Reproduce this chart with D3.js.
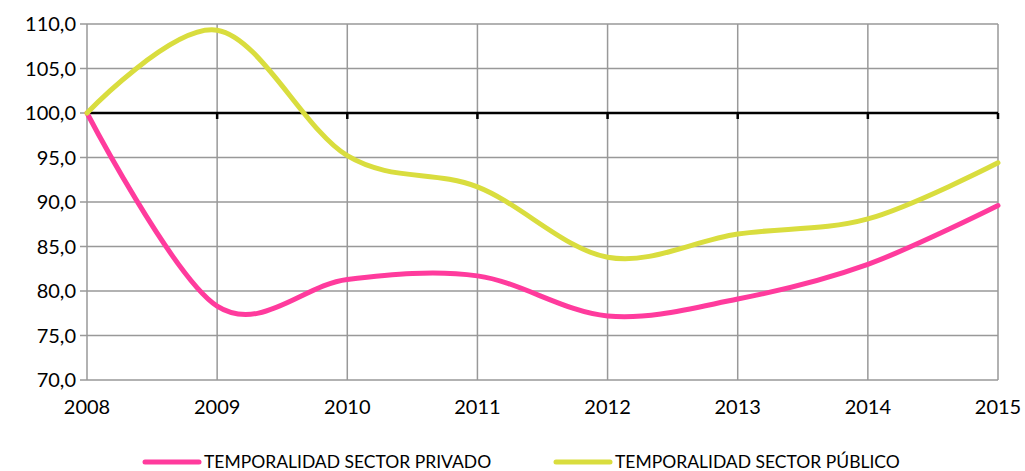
<!DOCTYPE html>
<html>
<head>
<meta charset="utf-8">
<script src="https://cdn.jsdelivr.net/npm/d3@7"></script>
<style>
  body { margin: 0; background: #fff; }
  text { font-family: Lato, "Open Sans", sans-serif; fill: #000; }
</style>
</head>
<body>
<svg width="1025" height="471" id="mainsvg"></svg>
<script>
const years = [2008, 2009, 2010, 2011, 2012, 2013, 2014, 2015];
const privado = [100.0, 78.3, 81.3, 81.7, 77.2, 79.1, 83.0, 89.6];
const publico = [100.0, 109.3, 95.2, 91.7, 83.8, 86.4, 88.1, 94.4];
const yTicks = [70, 75, 80, 85, 90, 95, 100, 105, 110];
const seriesNames = ['TEMPORALIDAD SECTOR PRIVADO', 'TEMPORALIDAD SECTOR PÚBLICO'];
const colors = ['#ff3b9d', '#d9dd3e'];

const svg = d3.select('svg');
const margin = {top: 24, left: 87, right: 27, bottom: 91};
const width = +svg.attr('width'), height = +svg.attr('height');
const innerW = width - margin.left - margin.right;
const innerH = height - margin.top - margin.bottom;
const g = svg.append('g').attr('transform', `translate(${margin.left},${margin.top})`);

const x = d3.scaleLinear().domain([2008, 2015]).range([0, innerW]);
const y = d3.scaleLinear().domain([70, 110]).range([innerH, 0]);

// grid
g.selectAll('.hgrid').data(yTicks).join('line')
  .attr('x1', -7).attr('x2', innerW)
  .attr('y1', d => y(d)).attr('y2', d => y(d))
  .attr('stroke', '#999').attr('stroke-width', 1.5);
g.selectAll('.vgrid').data(years).join('line')
  .attr('x1', d => x(d)).attr('x2', d => x(d))
  .attr('y1', 0).attr('y2', innerH)
  .attr('stroke', '#999').attr('stroke-width', 1.5);

// y labels
g.selectAll('.ylab').data(yTicks).join('text')
  .attr('x', -11).attr('y', d => y(d)).attr('dy', '0.35em')
  .attr('text-anchor', 'end').attr('font-size', 20)
  .text(d => d3.format('.1f')(d).replace('.', ','));

// x labels
g.selectAll('.xlab').data(years).join('text')
  .attr('x', d => x(d)).attr('y', innerH + 34)
  .attr('text-anchor', 'middle').attr('font-size', 20)
  .text(d => d);

// axis line at 100 with ticks
g.append('line').attr('x1', 0).attr('x2', innerW)
  .attr('y1', y(100)).attr('y2', y(100))
  .attr('stroke', '#000').attr('stroke-width', 2.5);
g.selectAll('.tick100').data(years.slice(1)).join('line')
  .attr('x1', d => x(d)).attr('x2', d => x(d))
  .attr('y1', y(100)).attr('y2', y(100) + 6)
  .attr('stroke', '#000').attr('stroke-width', 2.5);

// lines
const line = d3.line().x((d, i) => x(years[i])).y(d => y(d))
  .curve(d3.curveCardinal.tension(0));
[privado, publico].forEach((s, i) => {
  g.append('path').attr('d', line(s)).attr('fill', 'none')
    .attr('stroke', colors[i]).attr('stroke-width', 5)
    .attr('stroke-linecap', 'round');
});

// legend
const legendX = [145, 556];
const leg = svg.append('g');
seriesNames.forEach((n, i) => {
  leg.append('line').attr('x1', legendX[i]).attr('x2', legendX[i] + 54)
    .attr('y1', 462).attr('y2', 462)
    .attr('stroke', colors[i]).attr('stroke-width', 5).attr('stroke-linecap', 'round');
  leg.append('text').attr('x', legendX[i] + 59).attr('y', 462).attr('dy', '0.35em')
    .attr('font-size', 17.5).text(n);
});
</script>
</body>
</html>
